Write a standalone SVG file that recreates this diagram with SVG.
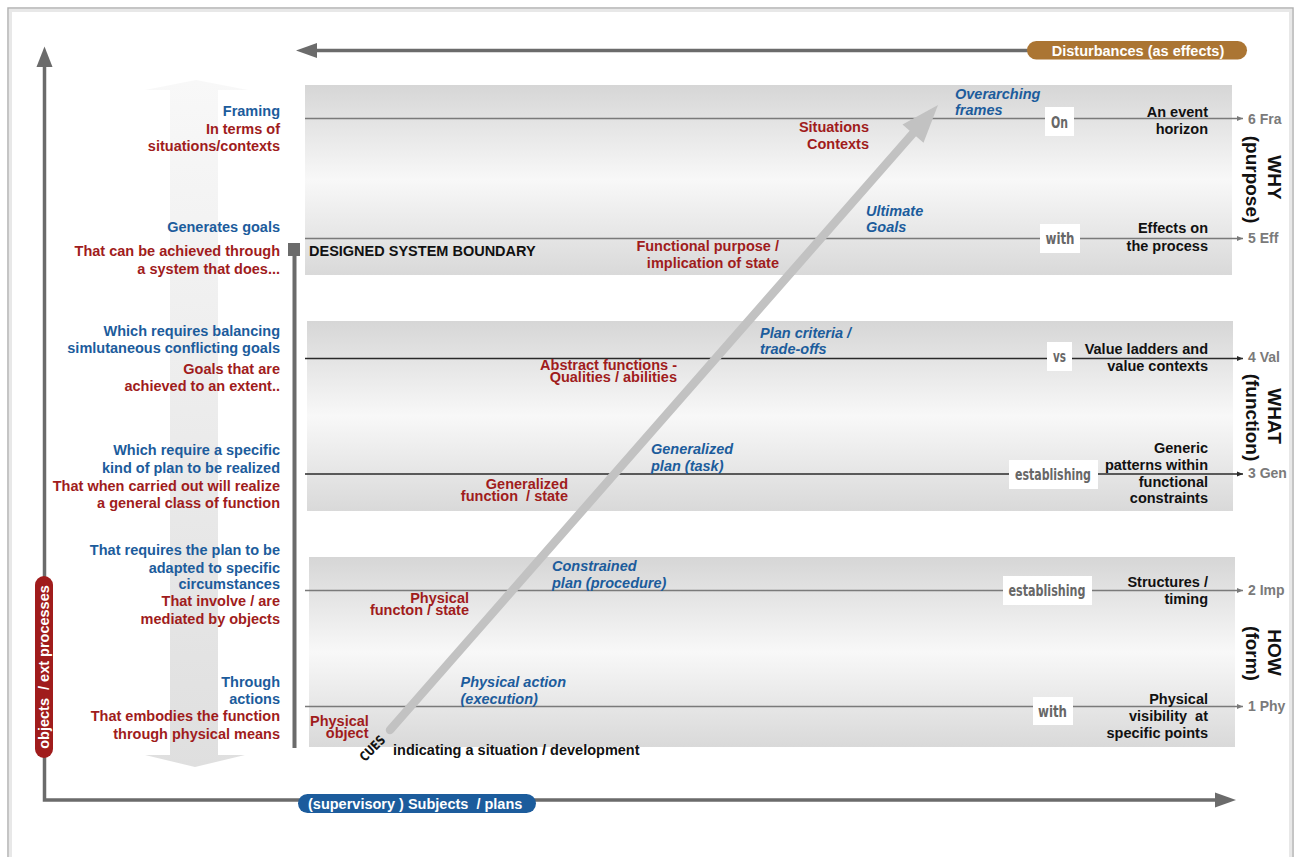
<svg xmlns="http://www.w3.org/2000/svg" width="1296" height="857" viewBox="0 0 1296 857">
<defs>
  <linearGradient id="bandGrad" x1="0" y1="0" x2="0" y2="1">
    <stop offset="0" stop-color="#d6d6d6"/>
    <stop offset="0.5" stop-color="#f8f8f8"/>
    <stop offset="1" stop-color="#d9d9d9"/>
  </linearGradient>
  <linearGradient id="colGrad" x1="0" y1="0" x2="0" y2="1">
    <stop offset="0" stop-color="#f8f8f8"/>
    <stop offset="1" stop-color="#dfdfdf"/>
  </linearGradient>
  <marker id="tickG" markerUnits="userSpaceOnUse" markerWidth="6" markerHeight="6" refX="6" refY="3" orient="auto">
    <path d="M0,0.5 L6,3 L0,5.5 z" fill="#7a7a7a"/>
  </marker>
  <marker id="tickD" markerUnits="userSpaceOnUse" markerWidth="6" markerHeight="6" refX="6" refY="3" orient="auto">
    <path d="M0,0.5 L6,3 L0,5.5 z" fill="#2a2a2a"/>
  </marker>
</defs>
<style>
  text { font-family: "Liberation Sans", Arial, Helvetica, sans-serif; font-weight: bold; font-size: 14.5px; }
  .blue { fill: #1c5c9c; }
  .red { fill: #a01c1c; }
  .blk { fill: #111111; }
  .r { text-anchor: end; }
  .m { text-anchor: middle; }
  .it { font-style: italic; }
  .lvl { fill: #7a7a7a; font-size: 14px; }
  .word { font-family: "DejaVu Sans Condensed", "DejaVu Sans", sans-serif; font-size: 16px; fill: #676767; text-anchor: middle; }
  .cues { font-family: "DejaVu Sans Condensed", "DejaVu Sans", sans-serif; font-size: 13px; fill: #111111; text-anchor: middle; }
  .wbox { fill: #ffffff; }
  .side { font-size: 19px; fill: #111111; text-anchor: middle; }
  .pill { fill: #ffffff; }
  .axis { stroke: #6b6b6b; stroke-width: 3.5; fill: none; }
  .head { fill: #6b6b6b; }
  .band { fill: url(#bandGrad); }
  .lineG { stroke: #7a7a7a; stroke-width: 1.5; marker-end: url(#tickG); }
  .lineD { stroke: #2a2a2a; stroke-width: 1.5; marker-end: url(#tickD); }
</style>

<!-- frame -->
<rect x="8" y="8" width="1285" height="900" fill="#ffffff" stroke="#b3b3b3" stroke-width="1.5"/>
<rect x="10.5" y="10.5" width="1280" height="900" fill="none" stroke="#e8e8e8" stroke-width="3"/>

<!-- faded vertical column behind left texts -->
<g id="column">
  <polygon points="196,80 248,90 218,90 218,755 245,755 195,767 145,755 170,755 170,90 145,90" fill="url(#colGrad)"/>
</g>

<!-- bands -->
<g id="band-why">
  <rect class="band" x="305" y="85" width="927" height="190"/>
</g>
<g id="band-what">
  <rect class="band" x="307" y="321" width="926" height="190"/>
</g>
<g id="band-how">
  <rect class="band" x="309" y="557" width="926" height="190"/>
</g>

<!-- connectors -->
<g id="connectors">
  <line class="lineG" x1="305" y1="118.5" x2="1243" y2="118.5"/>
  <line class="lineG" x1="305" y1="238.5" x2="1243" y2="238.5"/>
  <line class="lineD" x1="305" y1="358.5" x2="1243" y2="358.5"/>
  <line class="lineD" x1="305" y1="474" x2="1243" y2="474"/>
  <line class="lineG" x1="305" y1="590.5" x2="1243" y2="590.5"/>
  <line class="lineG" x1="305" y1="706.5" x2="1243" y2="706.5"/>

  <!-- axes -->
  <polyline class="axis" points="44.5,66 44.5,800 1217,800"/>
  <polygon class="head" points="44.5,46.5 52.5,67 36.5,67"/>
  <polygon class="head" points="1236,800 1215,792.5 1215,807.5"/>
  <line class="axis" x1="1030" y1="50.5" x2="315" y2="50.5"/>
  <polygon class="head" points="296,50.5 317,43 317,58"/>

  <!-- designed system boundary marker -->
  <line x1="294.5" y1="255" x2="294.5" y2="748" stroke="#6b6b6b" stroke-width="4"/>
  <rect x="288" y="243" width="12" height="13" fill="#6b6b6b"/>

  <!-- diagonal arrow -->
  <line x1="390" y1="730" x2="915" y2="131" stroke="#c2c2c2" stroke-width="8.5" stroke-linecap="round"/>
  <polygon points="938,105 923.5,142.8 902.5,124.4" fill="#c2c2c2"/>
</g>

<!-- pills -->
<g id="pill-disturbances">
  <rect x="1027" y="41" width="220" height="18.5" rx="9.25" fill="#ab7533"/>
  <text class="pill m" x="1138" y="55.5">Disturbances (as effects)</text>
</g>
<g id="pill-subjects">
  <rect x="298" y="794" width="238" height="19" rx="9.5" fill="#1c5c9c"/>
  <text class="pill" x="308" y="808.5" xml:space="preserve">(supervisory ) Subjects  / plans</text>
</g>
<g id="pill-objects">
  <rect x="35" y="576" width="18" height="182" rx="9" fill="#a01c1c"/>
  <text class="pill m" transform="translate(49,667) rotate(-90)" x="0" y="0" xml:space="preserve">objects  / ext processes</text>
</g>

<!-- left column texts -->
<g id="left-texts">
  <text class="blue r" x="280" y="116">Framing</text>
  <text class="red r" x="280" y="133.5">In terms of</text>
  <text class="red r" x="280" y="151">situations/contexts</text>

  <text class="blue r" x="280" y="232">Generates goals</text>
  <text class="red r" x="280" y="256">That can be achieved through</text>
  <text class="red r" x="280" y="273.5">a system that does...</text>

  <text class="blue r" x="280" y="336">Which requires balancing</text>
  <text class="blue r" x="280" y="353">simlutaneous conflicting goals</text>
  <text class="red r" x="280" y="373.5">Goals that are</text>
  <text class="red r" x="280" y="391">achieved to an extent..</text>

  <text class="blue r" x="280" y="455">Which require a specific</text>
  <text class="blue r" x="280" y="472.5">kind of plan to be realized</text>
  <text class="red r" x="280" y="491">That when carried out will realize</text>
  <text class="red r" x="280" y="508">a general class of function</text>

  <text class="blue r" x="280" y="555">That requires the plan to be</text>
  <text class="blue r" x="280" y="572.5">adapted to specific</text>
  <text class="blue r" x="280" y="589">circumstances</text>
  <text class="red r" x="280" y="606">That involve / are</text>
  <text class="red r" x="280" y="623.5">mediated by objects</text>

  <text class="blue r" x="280" y="687">Through</text>
  <text class="blue r" x="280" y="703.5">actions</text>
  <text class="red r" x="280" y="721">That embodies the function</text>
  <text class="red r" x="280" y="738.5">through physical means</text>
</g>

<!-- WHY band labels -->
<g id="why-labels">
  <text class="blue it" x="955" y="98.5">Overarching</text>
  <text class="blue it" x="955" y="114.5">frames</text>
  <text class="red r" x="869" y="132">Situations</text>
  <text class="red r" x="869" y="149">Contexts</text>
  <text class="blue it" x="866" y="215.5">Ultimate</text>
  <text class="blue it" x="866" y="232">Goals</text>
  <text class="red r" x="779" y="251">Functional purpose /</text>
  <text class="red r" x="779" y="267.5">implication of state</text>
  <text class="blk" x="309" y="255.5">DESIGNED SYSTEM BOUNDARY</text>
  <text class="blk r" x="1208" y="117">An event</text>
  <text class="blk r" x="1208" y="134">horizon</text>
  <text class="blk r" x="1208" y="233">Effects on</text>
  <text class="blk r" x="1208" y="250.5">the process</text>
</g>

<!-- WHAT band labels -->
<g id="what-labels">
  <text class="blue it" x="760" y="337.5">Plan criteria /</text>
  <text class="blue it" x="760" y="354">trade-offs</text>
  <text class="red r" x="677" y="369.5">Abstract functions -</text>
  <text class="red r" x="677" y="382">Qualities / abilities</text>
  <text class="blue it" x="651" y="454">Generalized</text>
  <text class="blue it" x="651" y="471">plan (task)</text>
  <text class="red r" x="568" y="488.5">Generalized</text>
  <text class="red r" x="568" y="501" xml:space="preserve">function  / state</text>
  <text class="blk r" x="1208" y="354">Value ladders and</text>
  <text class="blk r" x="1208" y="370.5">value contexts</text>
  <text class="blk r" x="1208" y="453">Generic</text>
  <text class="blk r" x="1208" y="469.5">patterns within</text>
  <text class="blk r" x="1208" y="486.5">functional</text>
  <text class="blk r" x="1208" y="503">constraints</text>
</g>

<!-- HOW band labels -->
<g id="how-labels">
  <text class="blue it" x="552" y="571">Constrained</text>
  <text class="blue it" x="552" y="587.5">plan (procedure)</text>
  <text class="red r" x="469" y="603">Physical</text>
  <text class="red r" x="469" y="615">functon / state</text>
  <text class="blue it" x="460.5" y="687">Physical action</text>
  <text class="blue it" x="460.5" y="703.5">(execution)</text>
  <text class="red" x="310" y="725.5">Physical</text>
  <text class="red r" x="368.5" y="737.5">object</text>
  <text class="blk r" x="1208" y="586.5">Structures /</text>
  <text class="blk r" x="1208" y="603.5">timing</text>
  <text class="blk r" x="1208" y="703.5">Physical</text>
  <text class="blk r" x="1208" y="720.5" xml:space="preserve">visibility  at</text>
  <text class="blk r" x="1208" y="737.5">specific points</text>
  <text class="cues" transform="translate(372,748) rotate(-45)" x="0" y="5" textLength="30" lengthAdjust="spacingAndGlyphs">CUES</text>
  <text class="blk" x="393" y="755">indicating a situation / development</text>
</g>

<!-- word boxes -->
<g id="word-on">
  <rect class="wbox" x="1045" y="107" width="29" height="29"/>
  <text class="word" x="1059.5" y="127.5" textLength="17" lengthAdjust="spacingAndGlyphs">On</text>
</g>
<g id="word-with-why">
  <rect class="wbox" x="1040" y="224" width="40" height="29"/>
  <text class="word" x="1060" y="243.5" textLength="29" lengthAdjust="spacingAndGlyphs">with</text>
</g>
<g id="word-vs">
  <rect class="wbox" x="1047" y="342" width="25" height="29"/>
  <text class="word" x="1059.5" y="362" textLength="13" lengthAdjust="spacingAndGlyphs">vs</text>
</g>
<g id="word-establishing-what">
  <rect class="wbox" x="1009" y="460" width="89" height="29"/>
  <text class="word" x="1053" y="479.5" textLength="76" lengthAdjust="spacingAndGlyphs">establishing</text>
</g>
<g id="word-establishing-how">
  <rect class="wbox" x="1003" y="576" width="89" height="29"/>
  <text class="word" x="1047" y="595.5" textLength="77" lengthAdjust="spacingAndGlyphs">establishing</text>
</g>
<g id="word-with-how">
  <rect class="wbox" x="1033" y="697" width="40" height="28"/>
  <text class="word" x="1052.5" y="716.5" textLength="29" lengthAdjust="spacingAndGlyphs">with</text>
</g>

<!-- level labels -->
<g id="levels">
  <text class="lvl" x="1248" y="124">6 Fra</text>
  <text class="lvl" x="1248" y="243">5 Eff</text>
  <text class="lvl" x="1248" y="362">4 Val</text>
  <text class="lvl" x="1248" y="478">3 Gen</text>
  <text class="lvl" x="1248" y="595">2 Imp</text>
  <text class="lvl" x="1248" y="711">1 Phy</text>
</g>

<!-- side labels -->
<g id="side-why">
  <text class="side" transform="translate(1268,177.5) rotate(90)">WHY</text>
  <text class="side" transform="translate(1246,179.5) rotate(90)">(purpose)</text>
</g>
<g id="side-what">
  <text class="side" transform="translate(1268,416) rotate(90)">WHAT</text>
  <text class="side" transform="translate(1246,417.5) rotate(90)">(function)</text>
</g>
<g id="side-how">
  <text class="side" transform="translate(1268,652.5) rotate(90)">HOW</text>
  <text class="side" transform="translate(1246,653.5) rotate(90)">(form)</text>
</g>
</svg>
